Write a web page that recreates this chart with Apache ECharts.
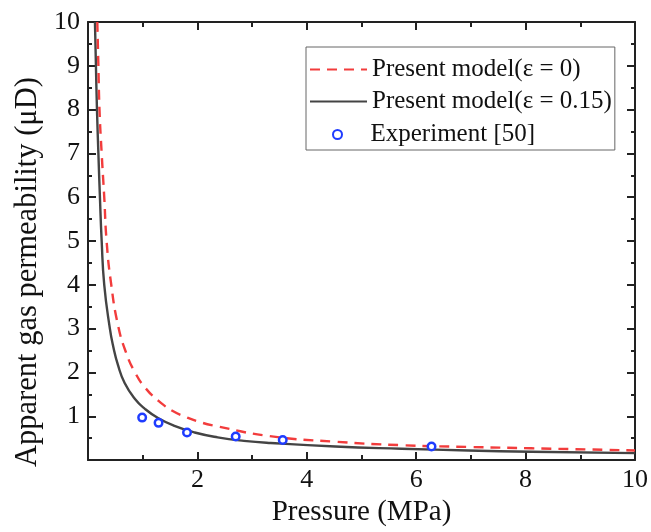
<!DOCTYPE html>
<html>
<head>
<meta charset="utf-8">
<script src="https://cdn.jsdelivr.net/npm/echarts@6/dist/echarts.min.js"></script>
<style>
  html, body { margin: 0; padding: 0; background: #fff; }
  #main { width: 651px; height: 532px; }
</style>
</head>
<body>
<div id="main"></div>
<script>
// curve: epsilon = 0
var redP = [0.17, 0.19, 0.21, 0.25, 0.297, 0.34, 0.42, 0.55, 0.70, 0.86, 1.04, 1.29, 1.55, 1.78, 2.02, 2.29, 3.31, 4.52, 5.73, 6.95, 8.1, 10];
var redK = [10, 9, 8, 7, 6, 5, 4.05, 3.07, 2.44, 2.0, 1.66, 1.35, 1.12, 0.99, 0.88, 0.79, 0.55, 0.42, 0.34, 0.30, 0.27, 0.22];
// epsilon = 0.15
var blackP = [0.127, 0.145, 0.164, 0.19, 0.218, 0.25, 0.297, 0.40, 0.46, 0.55, 0.67, 0.855, 1.04, 1.28, 1.58, 1.95, 2.37, 2.85, 3.34, 4.52, 5.73, 6.95, 8.1, 10];
var blackK = [10, 9, 8, 7, 6, 5, 4, 3.0, 2.6, 2.16, 1.76, 1.40, 1.17, 0.96, 0.78, 0.63, 0.52, 0.44, 0.39, 0.31, 0.26, 0.22, 0.19, 0.16];
// experiment [50]
var expP = [0.99, 1.29, 1.81, 2.70, 3.56, 6.28];
var expK = [0.97, 0.85, 0.63, 0.54, 0.46, 0.31];

var names = ['Present model(\u03b5 = 0)', 'Present model(\u03b5 = 0.15)', 'Experiment [50]'];

function pairs(xs, ys) {
	var out = [];
	for (var i = 0; i < xs.length; i++) out.push([xs[i], ys[i]]);
	return out;
}

var font = 'Liberation Serif';
var axisCol = '#222';
var tickFont = 26;

function hideZero(v) { return v === 0 ? '' : v; }

echarts.init(document.getElementById('main')).setOption({
	animation: false,
	textStyle: { fontFamily: font },
	grid: { left: 88, right: 13, top: 22, bottom: 66 },
	legend: [{
		data: [names[0], names[1]],
		orient: 'vertical',
		left: 306, top: 47,
		padding: [10, 3, 36, 3],
		itemWidth: 57, itemHeight: 14, itemGap: 7,
		itemStyle: { opacity: 0 },
		borderColor: '#666', borderWidth: 1,
		textStyle: { fontFamily: font, fontSize: 25, color: '#111' }
	}, {
		data: [names[2]],
		orient: 'vertical',
		left: 332, top: 122,
		padding: 0,
		itemWidth: 56, itemHeight: 9,
		textStyle: { fontFamily: font, fontSize: 25, color: '#111' }
	}],
	xAxis: [{
		type: 'value', min: 0, max: 10, interval: 2,
		name: 'Pressure (MPa)', nameLocation: 'middle', nameGap: 36,
		nameTextStyle: { fontSize: 29, color: '#111', fontFamily: font },
		axisLine: { lineStyle: { color: axisCol, width: 2 } },
		axisTick: { inside: true, length: 8, lineStyle: { color: axisCol, width: 2 } },
		minorTick: { show: true, splitNumber: 2, length: 5, lineStyle: { color: axisCol, width: 2 } },
		axisLabel: { fontSize: tickFont, color: '#111', margin: 7, formatter: hideZero },
		splitLine: { show: false }
	}, {
		type: 'value', position: 'top', min: 0, max: 10, interval: 2,
		axisLine: { onZero: false, lineStyle: { color: axisCol, width: 2 } },
		axisTick: { inside: true, length: 8, lineStyle: { color: axisCol, width: 2 } },
		minorTick: { show: true, splitNumber: 2, length: 5, lineStyle: { color: axisCol, width: 2 } },
		axisLabel: { show: false },
		splitLine: { show: false }
	}],
	yAxis: [{
		type: 'value', min: 0, max: 10, interval: 1,
		name: 'Apparent gas permeability (\u03bcD)', nameLocation: 'middle', nameGap: 44,
		nameTextStyle: { fontSize: 30.5, color: '#111', fontFamily: font, padding: [0, 62, 0, 0] },
		axisLine: { show: true, lineStyle: { color: axisCol, width: 2 } },
		axisTick: { show: true, inside: true, length: 8, lineStyle: { color: axisCol, width: 2 } },
		minorTick: { show: true, splitNumber: 2, length: 4, lineStyle: { color: axisCol, width: 2 } },
		axisLabel: { fontSize: tickFont, color: '#111', margin: 8, formatter: hideZero },
		splitLine: { show: false }
	}, {
		type: 'value', position: 'right', min: 0, max: 10, interval: 1,
		axisLine: { show: true, onZero: false, lineStyle: { color: axisCol, width: 2 } },
		axisTick: { show: true, inside: true, length: 8, lineStyle: { color: axisCol, width: 2 } },
		minorTick: { show: true, splitNumber: 2, length: 4, lineStyle: { color: axisCol, width: 2 } },
		axisLabel: { show: false },
		splitLine: { show: false }
	}],
	series: [{
		name: names[0],
		type: 'line',
		data: pairs(redP, redK),
		smooth: true,
		showSymbol: false,
		symbol: 'none',
		clip: true,
		itemStyle: { color: '#f23c3c' },
		lineStyle: { color: '#f23c3c', width: 2.4, type: [10, 7] },
		z: 3
	}, {
		name: names[1],
		type: 'line',
		data: pairs(blackP, blackK),
		smooth: true,
		showSymbol: false,
		symbol: 'none',
		clip: true,
		itemStyle: { color: '#444' },
		lineStyle: { color: '#444', width: 2.4 },
		z: 2
	}, {
		name: names[2],
		type: 'scatter',
		data: pairs(expP, expK),
		symbol: 'circle',
		symbolSize: 7.5,
		itemStyle: { color: '#fff', borderColor: '#1f3cff', borderWidth: 2.5, opacity: 1 },
		z: 4
	}]
});
</script>
</body>
</html>
